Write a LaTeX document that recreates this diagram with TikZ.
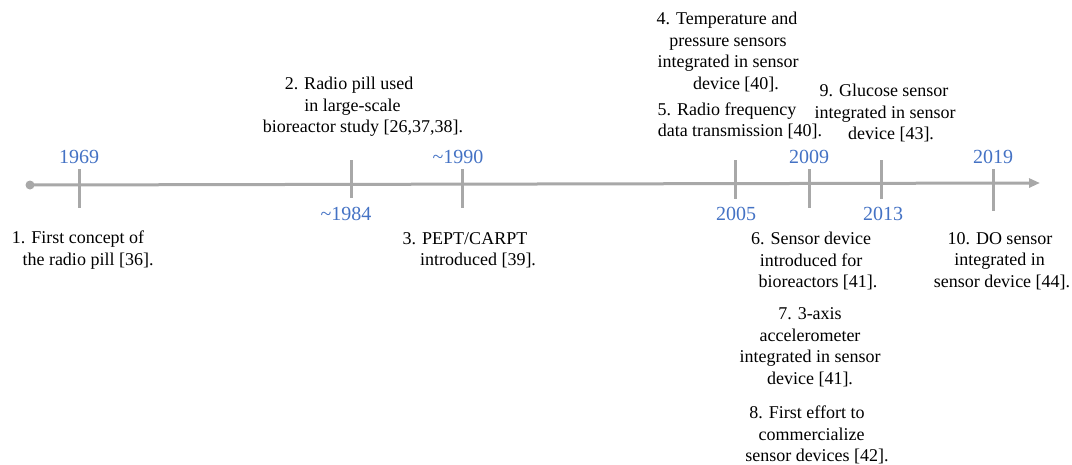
\documentclass[tikz,border=0pt]{standalone}
\usepackage{fontspec}
\setmainfont{Liberation Serif}
\usetikzlibrary{arrows.meta}
\definecolor{axisgray}{RGB}{168,168,168}
\definecolor{yearblue}{RGB}{68,114,196}
\newcommand{\lnshift}[2]{\hspace*{#1pt}#2\hspace*{-#1pt}}
\begin{document}
\begin{tikzpicture}[x=1pt,y=-1pt,
  axisline/.style={draw=axisgray,line width=3pt},
  tickline/.style={draw=axisgray,line width=3pt},
  year/.style={text=yearblue,font=\fontsize{20}{24}\selectfont,inner sep=0pt},
  event/.style={font=\fontsize{18}{21.5}\selectfont,align=center,inner sep=0pt}]
\useasboundingbox (0,0) rectangle (1072,464);
% axis
\coordinate (start) at (30,185);
\coordinate (end) at (1040,183);
\fill[axisgray] (start) circle (4.5);
\draw[axisline,-{Triangle[length=11pt,width=9pt]}] (start) -- (end);
% ticks (upper end / lower end)
\coordinate (t1a) at (79,169);  \coordinate (t1b) at (79,208);
\coordinate (t2a) at (351,160); \coordinate (t2b) at (351,198);
\coordinate (t3a) at (462,169); \coordinate (t3b) at (462,208);
\coordinate (t4a) at (735,160); \coordinate (t4b) at (735,199);
\coordinate (t5a) at (809,169); \coordinate (t5b) at (809,208);
\coordinate (t6a) at (881,160); \coordinate (t6b) at (881,199);
\coordinate (t7a) at (993,169); \coordinate (t7b) at (993,211);
\foreach \i in {1,...,7} {\draw[tickline] (t\i a) -- (t\i b);}
% years
\node[year] (y1969) at (79,157) {1969};
\node[year] (y1984) at (346,214) {\textasciitilde1984};
\node[year] (y1990) at (458,157) {\textasciitilde1990};
\node[year] (y2005) at (736,214) {2005};
\node[year] (y2009) at (809,157) {2009};
\node[year] (y2013) at (883,214) {2013};
\node[year] (y2019) at (993,157) {2019};
% events
\node[event] (e1) at (82,250) {\lnshift{-4}{1. First concept of}\\\lnshift{6}{the radio pill [36].}};
\node[event] (e2) at (356,107) {\lnshift{-7}{2. Radio pill used}\\\lnshift{-7}{in large-scale}\\\lnshift{7}{bioreactor study [26,37,38].}};
\node[event] (e3) at (471,250) {\lnshift{-6}{3. PEPT/CARPT}\\\lnshift{7}{introduced [39].}};
\node[event] (e4) at (729,52) {\lnshift{-2}{4. Temperature and}\\\lnshift{-2}{pressure sensors}\\\lnshift{-2}{integrated in sensor}\\\lnshift{7}{device [40].}};
\node[event] (e5) at (733,121) {\lnshift{-6}{5. Radio frequency}\\\lnshift{7}{data transmission [40].}};
\node[event] (e9) at (886,113) {\lnshift{-2}{9. Glucose sensor}\\\lnshift{-2}{integrated in sensor}\\\lnshift{5}{device [43].}};
\node[event] (e6) at (813,261) {\lnshift{-2}{6. Sensor device}\\\lnshift{-4}{introduced for}\\\lnshift{5}{bioreactors [41].}};
\node[event] (e7) at (810,347) {7. 3-axis\\accelerometer\\integrated in sensor\\device [41].};
\node[event] (e8) at (811,435) {\lnshift{-4}{8. First effort to}\\\lnshift{1}{commercialize}\\\lnshift{6}{sensor devices [42].}};
\node[event] (e10) at (1000,261) {10. DO sensor\\\lnshift{-1}{integrated in}\\\lnshift{2}{sensor device [44].}};
\end{tikzpicture}
\end{document}
